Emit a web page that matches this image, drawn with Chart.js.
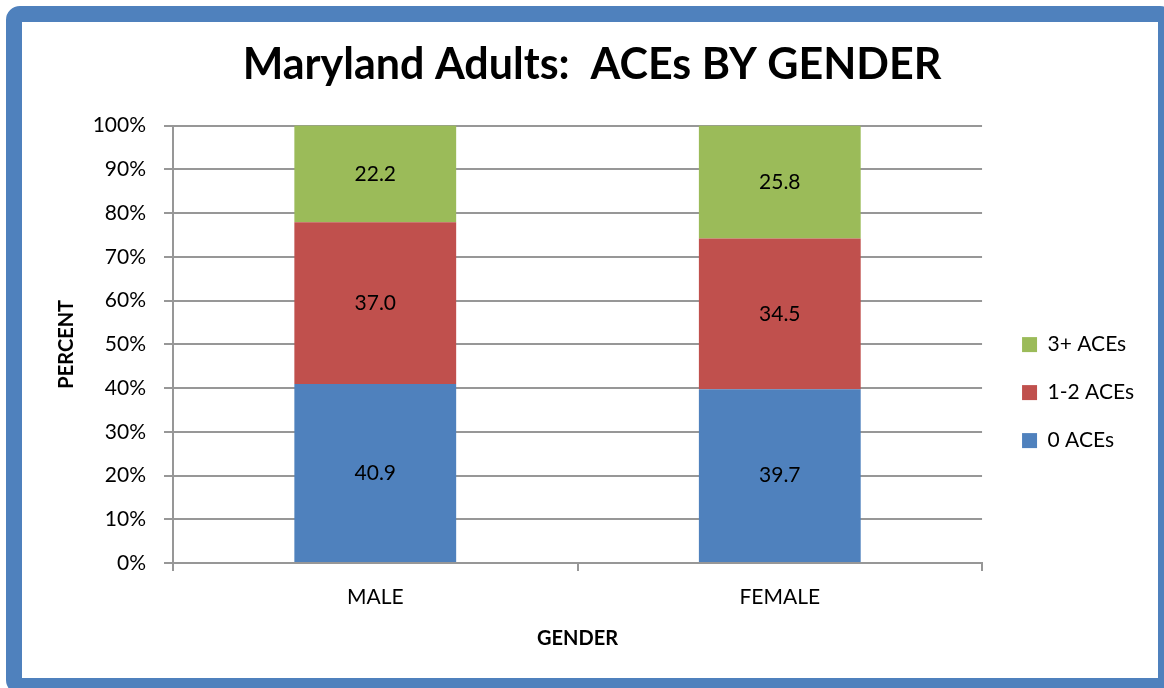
<!DOCTYPE html>
<html>
<head>
<meta charset="utf-8">
<script src="https://cdn.jsdelivr.net/npm/chart.js@4"></script>
<style>
  body { margin: 0; background: #fff; }
  #frame {
    position: absolute; left: 6px; top: 6px;
    width: 1168px; height: 688px; box-sizing: border-box;
    border: 16px solid #4f81bd; border-radius: 14px;
  }
  #chart { position: absolute; left: 0; top: 0; }
</style>
</head>
<body>
<div id="frame"></div>
<canvas id="chart" width="1164" height="688"></canvas>
<script>
let categories = ["MALE", "FEMALE"];
let seriesNames = ["0 ACEs", "1-2 ACEs", "3+ ACEs"];
let zeroAces = [40.9, 39.7];
let oneTwoAces = [37.0, 34.5];
let threePlusAces = [22.2, 25.8];
let colors = ["#4f81bd", "#c0504d", "#9bbb59"];

let fontName = "Lato, 'Open Sans', sans-serif";
let gridColor = "#979797";

// value labels in the middle of each segment
let valueLabels = {
    id: "valueLabels",
    afterDatasetsDraw(chart) {
        let ctx = chart.ctx;
        ctx.save();
        ctx.font = "21px " + fontName;
        ctx.fillStyle = "#000";
        ctx.textAlign = "center";
        ctx.textBaseline = "middle";
        chart.data.datasets.forEach((ds, i) => {
            chart.getDatasetMeta(i).data.forEach((bar, j) => {
                let p = bar.getProps(["x", "y", "base"], true);
                let top = Math.max(p.y, chart.chartArea.top);
                ctx.fillText(ds.data[j].toFixed(1), p.x, (top + p.base) / 2);
            });
        });
        ctx.restore();
    }
};

let chartData = {
    labels: categories,
    datasets: [
        { label: seriesNames[0], data: zeroAces, backgroundColor: colors[0] },
        { label: seriesNames[1], data: oneTwoAces, backgroundColor: colors[1] },
        { label: seriesNames[2], data: threePlusAces, backgroundColor: colors[2] }
    ]
};
chartData.datasets.forEach(ds => {
    ds.borderWidth = 0;
    ds.categoryPercentage = 1;
    ds.barPercentage = 0.4;
});

let chartOptions = {
    responsive: false,
    animation: false,
    layout: { padding: { left: 40, top: 22, right: 20, bottom: 30 } },
    plugins: {
        title: {
            display: true,
            text: "Maryland Adults:  ACEs BY GENDER",
            color: "#000",
            font: { family: fontName, size: 43, weight: "bold" },
            padding: { top: 17, bottom: 35 }
        },
        legend: {
            position: "right",
            reverse: true,
            title: { display: true, text: " ", font: { size: 1 }, padding: { top: 52, bottom: 52 } },
            labels: {
                boxWidth: 15,
                boxHeight: 15,
                padding: 27,
                color: "#000",
                font: { family: fontName, size: 21 }
            }
        },
        tooltip: { enabled: false }
    },
    scales: {
        x: {
            stacked: true,
            afterFit: s => { s.height = 95; },
            grid: { display: true, drawOnChartArea: false, drawTicks: true, tickLength: 8, color: gridColor, lineWidth: 2 },
            border: { color: gridColor, width: 2 },
            ticks: { color: "#000", padding: 14, font: { family: fontName, size: 21 } },
            title: {
                display: true, text: "GENDER", color: "#000",
                font: { family: fontName, size: 20, weight: "bold" },
                padding: { top: 0, bottom: 7 }
            }
        },
        y: {
            stacked: true,
            min: 0,
            max: 100,
            afterFit: s => { s.width = 133; },
            grid: { color: gridColor, lineWidth: 2, tickLength: 9 },
            border: { color: gridColor, width: 2 },
            ticks: {
                stepSize: 10, color: "#000", padding: 18,
                font: { family: fontName, size: 21 },
                callback: v => v + "%"
            },
            title: {
                display: true, text: "PERCENT", color: "#000",
                font: { family: fontName, size: 20, weight: "bold" },
                padding: { top: 15, bottom: 0 }
            }
        },
        y2: {
            position: "right",
            display: true,
            afterFit: s => { s.width = 13; },
            grid: { display: false },
            border: { display: false },
            ticks: { display: false }
        }
    }
};

new Chart(document.getElementById("chart"), {
    type: "bar",
    data: chartData,
    options: chartOptions,
    plugins: [valueLabels]
});
</script>
</body>
</html>
